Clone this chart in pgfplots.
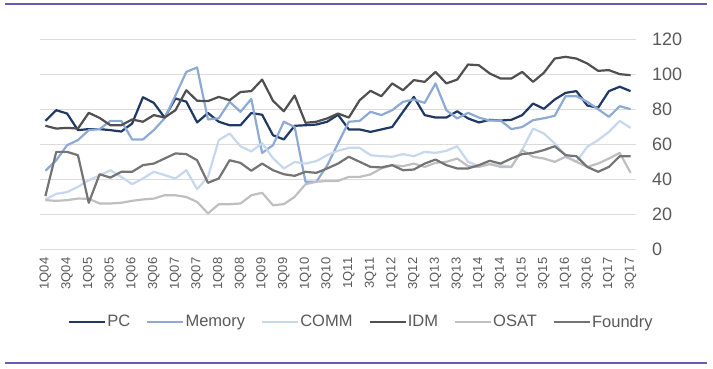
\documentclass[border=0pt]{standalone}
\usepackage{fontspec}
\setmainfont{Liberation Sans}
\usepackage{pgfplots}
\usepackage{pgfplotstable}
\pgfplotsset{compat=1.18}
\definecolor{cPC}{HTML}{1F3864}
\definecolor{cMem}{HTML}{8DAAD6}
\definecolor{cComm}{HTML}{C6D7EE}
\definecolor{cIDM}{HTML}{505050}
\definecolor{cOSAT}{HTML}{BFBFBF}
\definecolor{cFoundry}{HTML}{747474}
\definecolor{gridc}{HTML}{DCDCDC}
\definecolor{labc}{HTML}{595959}
\definecolor{purp}{HTML}{665CB4}
\pgfplotstableread{
i PC Mem COMM IDM OSAT Foundry
0 73.5 45 28.6 70.7 28.2 30.5
1 79.6 51 31.8 69.1 27.8 55.8
2 77.7 59.6 32.8 69.5 28.2 55.8
3 68.2 62.5 35.8 69.1 29.1 53.9
4 68.8 68.2 39.6 78.1 29.0 26.7
5 68.8 68.8 42.3 75.2 26.3 43.0
6 68.2 73.5 45.3 71.0 26.3 41.1
7 67.4 73.5 41.5 71.0 26.7 44.4
8 72.0 62.9 37.3 74.3 27.8 44.4
9 87.0 62.9 40.6 73.0 28.6 48.2
10 83.8 68.2 44.4 76.8 29.1 49.1
11 75.4 75.0 42.5 75.4 31.0 52.0
12 86.3 88.0 40.6 79.6 31.0 54.9
13 84.5 101.5 45.3 91.0 30.0 54.5
14 72.6 104.0 34.5 85.0 27.2 51.0
15 78.0 74.3 41.5 84.8 20.6 38.1
16 73.0 75.0 62.5 87.2 25.9 40.6
17 71.0 84.4 66.3 85.3 25.9 51.0
18 71.0 78.7 59.0 90.0 26.3 49.5
19 78.0 86.0 56.0 90.5 31.0 45.0
20 77.0 55.2 60.8 97.1 32.4 49.1
21 65.3 59.6 52.2 85.0 25.3 45.3
22 62.9 73.0 46.3 79.0 25.9 43.0
23 70.7 70.0 50.0 88.0 30.1 42.1
24 71.0 38.7 49.1 72.4 37.3 44.4
25 71.4 38.7 50.5 73.0 38.7 43.8
26 73.0 48.0 53.9 74.9 39.2 46.3
27 77.0 60.6 56.4 77.7 39.2 49.1
28 68.6 73.0 58.1 75.4 41.5 53.0
29 68.6 73.5 58.1 85.3 41.5 50.1
30 67.2 78.7 53.9 90.7 42.9 47.2
31 68.6 76.8 53.3 87.6 46.3 46.9
32 70.0 79.6 53.0 94.9 48.2 48.2
33 78.7 84.4 54.5 91.0 47.6 45.3
34 87.2 85.7 53.3 96.8 49.1 45.7
35 76.8 83.8 55.8 95.8 47.2 49.1
36 75.4 94.9 55.2 101.5 49.5 51.4
37 75.4 79.6 56.4 94.9 50.1 48.2
38 79.0 74.9 59.0 97.1 52.0 46.3
39 74.9 78.1 50.1 105.7 47.6 46.3
40 72.6 75.4 47.6 105.3 47.2 48.2
41 74.1 73.7 48.8 100.6 48.8 50.7
42 73.7 73.7 48.2 97.7 47.2 49.1
43 74.1 68.8 47.2 97.7 47.2 52.0
44 76.8 70.0 57.0 101.5 56.8 54.5
45 83.4 73.9 69.1 95.8 53.0 55.2
46 80.4 75.0 66.3 101.0 52.0 56.8
47 85.7 76.4 60.6 109.1 50.1 59.0
48 89.5 87.6 53.9 110.1 53.0 53.9
49 90.5 87.6 50.1 109.1 50.1 53.3
50 82.3 84.4 58.7 106.3 47.2 47.2
51 81.0 80.2 62.5 102.1 49.1 44.4
52 90.5 75.8 67.2 102.5 52.0 47.2
53 93.0 81.9 73.5 100.2 55.2 53.3
54 90.5 80.2 69.5 99.6 43.8 53.3
}\datatable
\begin{document}
\begin{tikzpicture}
\useasboundingbox (0pt,0pt) rectangle (713pt,368pt);
\draw[purp, line width=2.5pt] (5pt,364pt) -- (707pt,364pt);
\draw[purp, line width=2.5pt] (5pt,5pt) -- (707pt,5pt);
\begin{axis}[
  at={(40pt,118.5pt)}, anchor=south west,
  scale only axis, width=596pt, height=210pt,
  xmin=-0.5, xmax=54.5, ymin=0, ymax=120,
  ytick={0,20,...,120},
  xtick={0,2,...,54},
  xticklabels={1Q04,3Q04,1Q05,3Q05,1Q06,3Q06,1Q07,3Q07,1Q08,3Q08,1Q09,3Q09,1Q10,3Q10,1Q11,3Q11,1Q12,3Q12,1Q13,3Q13,1Q14,3Q14,1Q15,3Q15,1Q16,3Q16,1Q17,3Q17},
  axis line style={draw=none},
  major tick length=0pt,
  ymajorgrids, grid style={color=gridc, line width=1.4pt},
  /pgf/number format/assume math mode=true,
  yticklabel pos=right,
  yticklabel style={anchor=west, inner sep=0pt, font=\fontsize{18}{20}\selectfont, text=labc},
  yticklabel shift=16pt,
  xticklabel style={rotate=90, anchor=east, inner sep=0pt, font=\fontsize{13}{15}\selectfont, text=labc},
  xticklabel shift=8pt,
  legend columns=6,
  legend style={at={(rel axis cs:0.047,-0.345)}, anchor=west, draw=none, fill=none, inner sep=0pt,
    font=\fontsize{16.5}{18}\selectfont, text=labc,
    nodes={inner sep=1pt},
    /tikz/every even column/.append style={column sep=15pt}},
  legend image code/.code={\draw[#1, line width=2.2pt] (0pt,0pt) -- (36pt,0pt);},
  every axis plot/.append style={line width=2.2pt, line join=round, mark=none},
]
\addplot[cPC] table[x=i, y=PC] {\datatable};
\addlegendentry{PC}
\addplot[cMem] table[x=i, y=Mem] {\datatable};
\addlegendentry{Memory}
\addplot[cComm] table[x=i, y=COMM] {\datatable};
\addlegendentry{COMM}
\addplot[cIDM] table[x=i, y=IDM] {\datatable};
\addlegendentry{IDM}
\addplot[cOSAT] table[x=i, y=OSAT] {\datatable};
\addlegendentry{OSAT}
\addplot[cFoundry] table[x=i, y=Foundry] {\datatable};
\addlegendentry{Foundry}
\end{axis}
\end{tikzpicture}
\end{document}
